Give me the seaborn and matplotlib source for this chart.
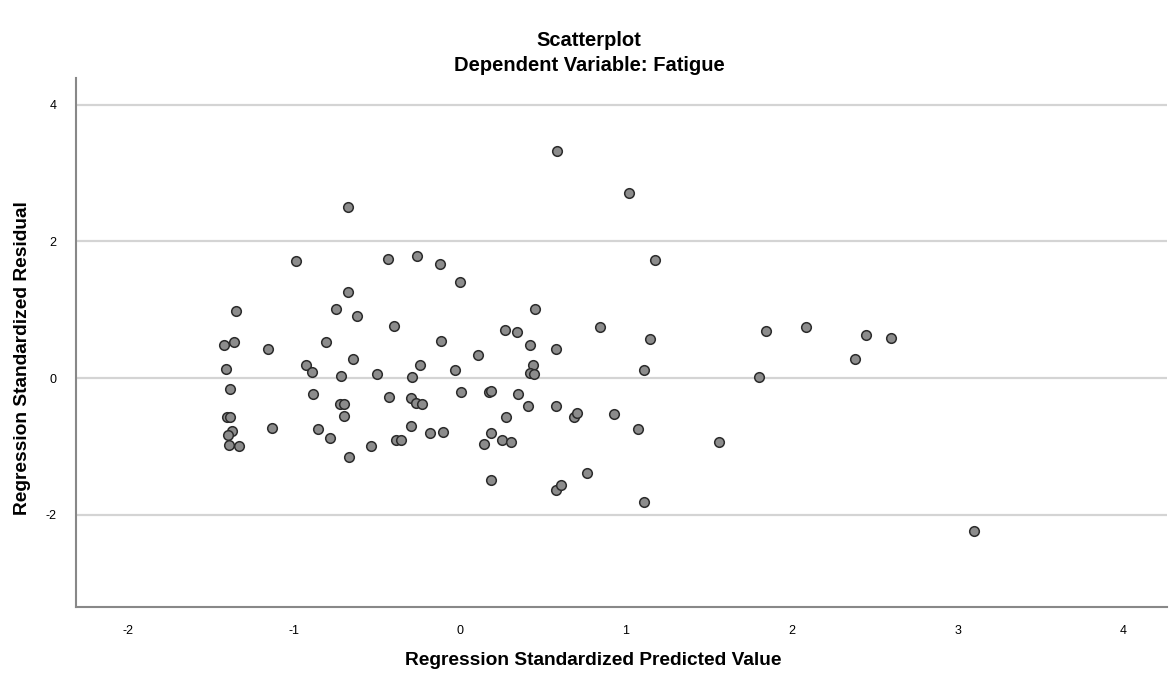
import matplotlib
matplotlib.use('Agg')
import matplotlib.pyplot as plt
import seaborn as sns
import pandas as pd

# ── Datos ────────────────────────────────────────────────────────────
pred = [-0.677, -0.99, -0.434, -0.259, -0.119, -0.002, -0.675, -1.351, -0.747, -0.622,
        -0.396, -1.42, -1.363, -1.157, -0.807, -0.114, -0.645, 0.112, -0.93, -0.89,
        -1.41, -0.715, -0.498, -0.287, -0.239, -0.028, -1.384, -0.887, -0.426, -0.295,
        -0.265, -0.229, 0.006, 0.173, 0.189, -0.723, -0.699, -0.70, -1.405, -1.386,
        -1.133, -0.853, -0.293, -1.373, -1.398, -0.781, -0.387, -0.355, -0.181, -0.10,
        0.189, 0.145, -1.39, -1.333, -0.538, -0.671, 0.19, 1.018, 1.179, 0.452,
        0.843, 0.273, 0.345, 1.147, 0.424, 0.58, 0.44, 0.424, 0.446, 1.112,
        1.80, 1.843, 0.348, 0.412, 0.58, 0.687, 0.705, 0.93, 0.277, 0.255,
        0.311, 1.072, 1.562, 0.767, 0.578, 0.61, 1.11, 2.084, 2.381, 2.446,
        2.596, 3.10, 0.586]
resid = [2.51, 1.71, 1.74, 1.79, 1.67, 1.40, 1.26, 0.985, 1.015, 0.912,
         0.757, 0.483, 0.527, 0.429, 0.522, 0.542, 0.283, 0.337, 0.19, 0.093,
         0.13, 0.034, 0.054, 0.015, 0.185, 0.112, -0.156, -0.235, -0.273, -0.288,
         -0.371, -0.386, -0.205, -0.21, -0.195, -0.376, -0.386, -0.552, -0.566, -0.566,
         -0.732, -0.747, -0.708, -0.776, -0.84, -0.874, -0.903, -0.912, -0.81, -0.795,
         -0.81, -0.966, -0.98, -0.996, -0.99, -1.161, -1.49, 2.71, 1.73, 1.006,
         0.752, 0.698, 0.669, 0.566, 0.483, 0.425, 0.186, 0.068, 0.059, 0.112,
         0.015, 0.693, -0.23, -0.415, -0.405, -0.575, -0.508, -0.522, -0.575, -0.912,
         -0.932, -0.752, -0.942, -1.386, -1.644, -1.567, -1.82, 0.747, 0.278, 0.625,
         0.581, -2.245, 3.32]
x_ticks = [-2, -1, 0, 1, 2, 3, 4]
y_ticks = [-2, 0, 2, 4]

df = pd.DataFrame({'pred': pred, 'resid': resid})

sns.set_style('white')
plt.rcParams['font.family'] = ['Liberation Sans', 'DejaVu Sans']
plt.rcParams['text.color'] = 'black'

fig = plt.figure(figsize=(11.71, 6.85), dpi=100)
ax = fig.add_axes([0.065, 0.114, 0.932, 0.772])

for yv in y_ticks:
    ax.axhline(yv, color='#d4d4d4', lw=1.6, zorder=0)

sns.scatterplot(data=df, x='pred', y='resid', ax=ax, s=48,
                color='#8c8c8c', edgecolor='#2b2b2b', linewidth=1.1, zorder=3)

ax.set_xlim(-2.313, 4.265)
ax.set_ylim(-3.35, 4.39)
ax.set_xticks(x_ticks)
ax.set_yticks(y_ticks)
ax.set_xticklabels([str(v) for v in x_ticks])
ax.set_yticklabels([str(v) for v in y_ticks])
ax.tick_params(axis='both', length=0, labelsize=9, colors='black')
ax.tick_params(axis='x', pad=13)
ax.tick_params(axis='y', pad=14)
ax.set_xlabel('')
ax.set_ylabel('')

for side in ['top', 'right']:
    ax.spines[side].set_visible(False)
for side in ['left', 'bottom']:
    ax.spines[side].set_color('#888888')
    ax.spines[side].set_linewidth(1.5)

fig.text(0.503, 0.941, 'Scatterplot', ha='center', va='center', fontsize=14.5, fontweight='bold')
fig.text(0.503, 0.905, 'Dependent Variable: Fatigue', ha='center', va='center', fontsize=14.5, fontweight='bold')
fig.text(0.507, 0.036, 'Regression Standardized Predicted Value', ha='center', va='center',
         fontsize=13.8, fontweight='bold')
fig.text(0.0196, 0.477, 'Regression Standardized Residual', ha='center', va='center',
         rotation=90, fontsize=13.8, fontweight='bold')

plt.savefig('out.png', dpi=100)
plt.close()
